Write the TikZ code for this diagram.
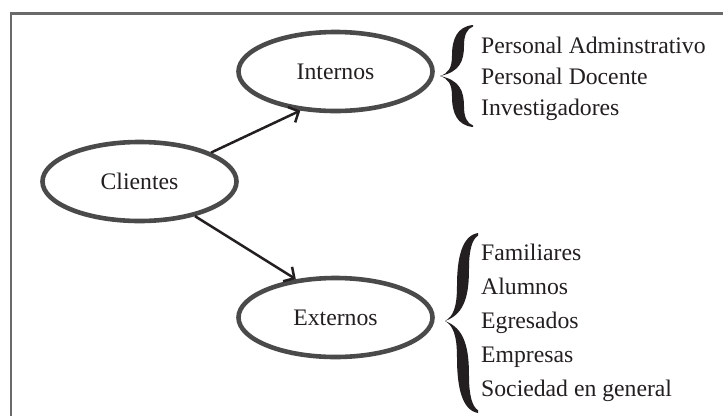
\documentclass[tikz,border=0pt]{standalone}
\usepackage{fontspec}
\setmainfont{Liberation Serif}
\usetikzlibrary{arrows.meta,shapes.geometric}
\definecolor{ovalgray}{HTML}{4A4A4A}
\definecolor{framegray}{HTML}{6A6A6A}
\definecolor{txt}{HTML}{231F20}
\tikzset{
  oval/.style={ellipse, draw=ovalgray, line width=4.6pt, minimum width=194pt, minimum height=79pt, inner sep=0pt, text=txt, font=\fontsize{23.7}{28}\selectfont},
  item/.style={anchor=base west, inner sep=0pt, text=txt, font=\fontsize{23.7}{28}\selectfont},
  link/.style={draw=txt, line width=2.5pt, -{Straight Barb[length=8pt,width=17pt]}},
  frameline/.style={draw=framegray, line width=2.2pt},
  halfbrace/.pic={\fill[txt] (0,0) .. controls (8,-0.05) and (12,-0.15) .. (12,-0.4)
      .. controls (12,-0.72) and (17,-0.97) .. (33,-1) -- (33,-0.97)
      .. controls (27,-0.93) and (24,-0.8) .. (24,-0.6)
      .. controls (24,-0.3) and (20,-0.08) .. (0,0) -- cycle;}
}
\begin{document}
\begin{tikzpicture}[x=1pt,y=-1pt]
\useasboundingbox (0,0) rectangle (723,416);
\fill[white] (0,0) rectangle (723,416);
% frame
\coordinate (fa) at (11,416);
\coordinate (fb) at (11,13.5);
\coordinate (fc) at (723,13.5);
\draw[frameline] (fa) -- (fb) -- (fc);
% ovals
\node[oval] (in) at (335.5,71.5) {Internos};
\node[oval] (cl) at (139.5,181.5) {Clientes};
\node[oval] (ex) at (335.5,317.5) {Externos};
% arrows
\draw[link] (cl.22) -- (in.228);
\draw[link] (cl.-32) -- (ex.136);
% braces
\path (440,76) pic[yscale=51] {halfbrace};
\path (440,76) pic[yscale=-51] {halfbrace};
\path (445,321) pic[yscale=88] {halfbrace};
\path (445,321) pic[yscale=-92] {halfbrace};
% lists
\node[item] (i1) at (481,53.3) {Personal Adminstrativo};
\node[item] (i2) at (481,84.3) {Personal Docente};
\node[item] (i3) at (481,115.3) {Investigadores};
\node[item] (e1) at (481,260) {Familiares};
\node[item] (e2) at (481,294) {Alumnos};
\node[item] (e3) at (481,328.3) {Egresados};
\node[item] (e4) at (481,362.5) {Empresas};
\node[item] (e5) at (481,396.7) {Sociedad en general};
\end{tikzpicture}
\end{document}
